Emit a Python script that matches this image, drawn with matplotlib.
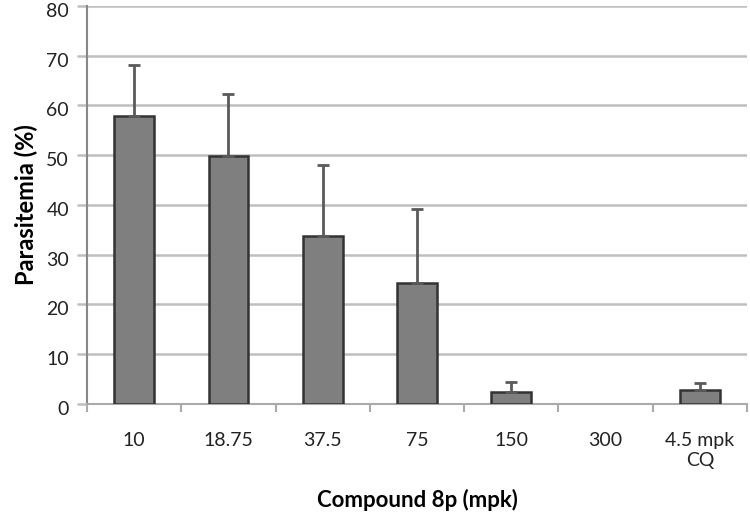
import numpy as np
import matplotlib.pyplot as plt
import matplotlib.transforms as mtransforms

plt.rcParams['font.family'] = ['Lato', 'DejaVu Sans']

labels = ['10', '18.75', '37.5', '75', '150', '300', '4.5 mpk\nCQ']
values = [57.9, 49.8, 33.8, 24.3, 2.4, 0.0, 2.8]
upper = [68.1, 62.3, 48.0, 39.2, 4.4, 0.0, 4.2]

x = np.arange(len(labels))
vals = np.array(values)
err = np.array(upper) - vals
m = vals > 0

fig = plt.figure(figsize=(7.5, 5.21), dpi=100)
ax = fig.add_axes([0.116, 0.2246, 0.88, 0.7639])

# zero bar (300) is not drawn at all in the original
ax.bar(x[m], vals[m], width=0.42, color='#7f7f7f', edgecolor='#333333', linewidth=1.8, zorder=3)
ax.errorbar(x[m], vals[m], yerr=[np.zeros(m.sum()), err[m]], fmt='none',
            ecolor='#5a5a5a', elinewidth=2, capsize=4, capthick=2, zorder=4)

ax.set_xlim(-0.5, len(labels) - 0.5)
ax.set_ylim(0, 80)
ax.set_yticks(np.arange(0, 81, 10))
ax.yaxis.grid(True, color='#bfbfbf', linewidth=1.8, zorder=0)
ax.set_axisbelow(True)

ax.set_xticks(x)
ax.set_xticklabels(labels, fontsize=14, color='#222222', linespacing=1.25)
ax.set_xticks(np.arange(-0.5, len(labels)), minor=True)
ax.tick_params(axis='x', which='major', length=0, pad=20)
ax.tick_params(axis='x', which='minor', length=6, width=1.5, color='#aaaaaa', direction='out')
ax.tick_params(axis='y', length=7, width=1.8, color='#bfbfbf', labelsize=14, labelcolor='#222222', pad=6)

# y labels sit a little below their gridlines in the original
shift = mtransforms.ScaledTranslation(0, -4 / 100, fig.dpi_scale_trans)
for t in ax.get_yticklabels():
    t.set_transform(t.get_transform() + shift)

for s in ['top', 'right']:
    ax.spines[s].set_visible(False)
ax.spines['left'].set_color('#888888')
ax.spines['left'].set_linewidth(1.5)
ax.spines['bottom'].set_color('#aaaaaa')
ax.spines['bottom'].set_linewidth(1.5)

ax.set_ylabel('Parasitemia (%)', fontsize=17, fontweight='bold', labelpad=6)
ax.set_xlabel('Compound 8p (mpk)', fontsize=16, fontweight='bold', labelpad=14)

fig.savefig('out.png', dpi=100)
